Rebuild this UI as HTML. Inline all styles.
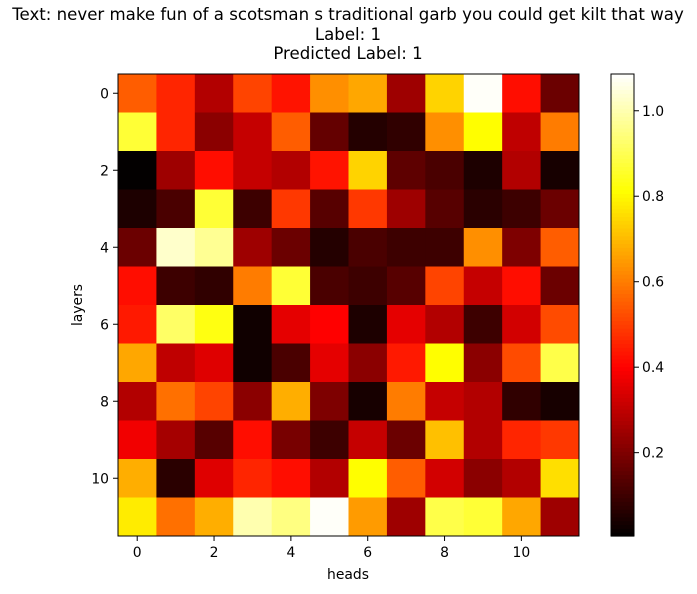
<!DOCTYPE html>
<html><head><meta charset="utf-8"><style>
body{margin:0;background:#fff;font-family:"Liberation Sans","DejaVu Sans",sans-serif}
svg text{font-family:"DejaVu Sans","Liberation Sans",sans-serif;fill:#000}
</style></head><body>
<svg id="chart" width="697" height="589" viewBox="0 0 697 589" xmlns="http://www.w3.org/2000/svg">
<g>
<text x="348" y="20" font-size="16.6" text-anchor="middle">Text: never make fun of a scotsman s traditional garb you could get kilt that way</text>
<text x="348" y="40" font-size="16.6" text-anchor="middle">Label: 1</text>
<text x="348" y="59" font-size="16.6" text-anchor="middle">Predicted Label: 1</text>
</g>
<g id="cells"></g>
<g id="axes"></g>
<g id="cbar"></g>
<text x="348" y="579" font-size="13.9" text-anchor="middle">heads</text>
<text x="0" y="0" font-size="13.9" text-anchor="middle" transform="translate(82,305) rotate(-90)">layers</text>
</svg>
<script>
const rowLabels=[0,1,2,3,4,5,6,7,8,9,10,11];
const colLabels=[0,1,2,3,4,5,6,7,8,9,10,11];
const xTicks=[0,2,4,6,8,10];
const yTicks=[0,2,4,6,8,10];
const cbTicks=[0.2,0.4,0.6,0.8,1.0];
const vMin=0.005, vMax=1.086;
const row0=[.55,.46,.28,.51,.43,.63,.67,.25,.74,1.08,.42,.17];
const row1=[.87,.46,.22,.31,.55,.16,.06,.08,.63,.81,.30,.60];
const row2=[.01,.25,.42,.31,.28,.43,.74,.15,.12,.05,.28,.04];
const row3=[.05,.12,.87,.10,.49,.14,.49,.25,.14,.07,.10,.17];
const row4=[.17,1.03,.97,.25,.17,.06,.12,.10,.10,.63,.20,.55];
const row5=[.42,.10,.08,.60,.87,.12,.10,.14,.51,.31,.42,.17];
const row6=[.44,.92,.83,.03,.36,.40,.05,.36,.28,.10,.33,.52];
const row7=[.67,.30,.35,.03,.12,.36,.22,.44,.81,.22,.52,.89];
const row8=[.28,.58,.51,.22,.68,.20,.04,.60,.31,.28,.08,.04];
const row9=[.38,.26,.14,.42,.19,.10,.31,.17,.71,.28,.46,.49];
const row10=[.68,.07,.35,.46,.42,.28,.81,.55,.33,.22,.28,.76];
const row11=[.78,.58,.68,1.0,.95,1.08,.65,.25,.89,.87,.67,.25];
const values=[row0,row1,row2,row3,row4,row5,row6,row7,row8,row9,row10,row11];

const NS="http://www.w3.org/2000/svg";
const L=118,R=579,T=74,B=536;
const cw=(R-L)/colLabels.length, ch=(B-T)/rowLabels.length;
const xPos=i=>L+i*cw, yPos=j=>T+j*ch;
function hot(v){const x=Math.max(0,Math.min(1,(v-vMin)/(vMax-vMin)));
 const c=a=>Math.round(255*Math.max(0,Math.min(1,a)));
 return `rgb(${c(x/0.365)},${c((x-0.365)/0.381)},${c((x-0.746)/0.254)})`;}
function mk(tag,attrs,parent){const e=document.createElementNS(NS,tag);for(const k in attrs)e.setAttribute(k,attrs[k]);parent.appendChild(e);return e;}
const cells=document.getElementById('cells');
values.forEach((row,j)=>row.forEach((v,i)=>{
 const r=mk('rect',{x:xPos(i),y:yPos(j),width:cw+0.5,height:ch+0.5,fill:hot(v)},cells);
 
 
}));
const axes=document.getElementById('axes');
mk('rect',{x:L,y:T,width:R-L,height:B-T,fill:'none',stroke:'#000','stroke-width':1},axes);
xTicks.forEach(t=>{const x=xPos(t)+cw/2;
 mk('line',{x1:x,x2:x,y1:B,y2:B+5,stroke:'#000'},axes);
 const tx=mk('text',{x:x,y:B+21,'font-size':13.9,'text-anchor':'middle'},axes);tx.textContent=t;
 
 });
yTicks.forEach(t=>{const y=yPos(t)+ch/2;
 mk('line',{x1:L-5,x2:L,y1:y,y2:y,stroke:'#000'},axes);
 const tx=mk('text',{x:L-9,y:y+5,'font-size':13.9,'text-anchor':'end'},axes);tx.textContent=t;
 
 });
const cb=document.getElementById('cbar');
const cL=611,cR=634,steps=120;
for(let k=0;k<steps;k++){const v=vMin+(k+0.5)/steps*(vMax-vMin);
 const y0=B-(k+1)/steps*(B-T);
 mk('rect',{x:cL,y:y0,width:cR-cL,height:(B-T)/steps+0.6,fill:hot(v)},cb);}
mk('rect',{x:cL,y:T,width:cR-cL,height:B-T,fill:'none',stroke:'#000'},cb);
cbTicks.forEach(t=>{const y=B-(t-vMin)/(vMax-vMin)*(B-T);
 mk('line',{x1:cR,x2:cR+5,y1:y,y2:y,stroke:'#000'},cb);
 const tx=mk('text',{x:cR+8,y:y+5,'font-size':13.9},cb);tx.textContent=t.toFixed(1);
 
 });
</script>
</body></html>
